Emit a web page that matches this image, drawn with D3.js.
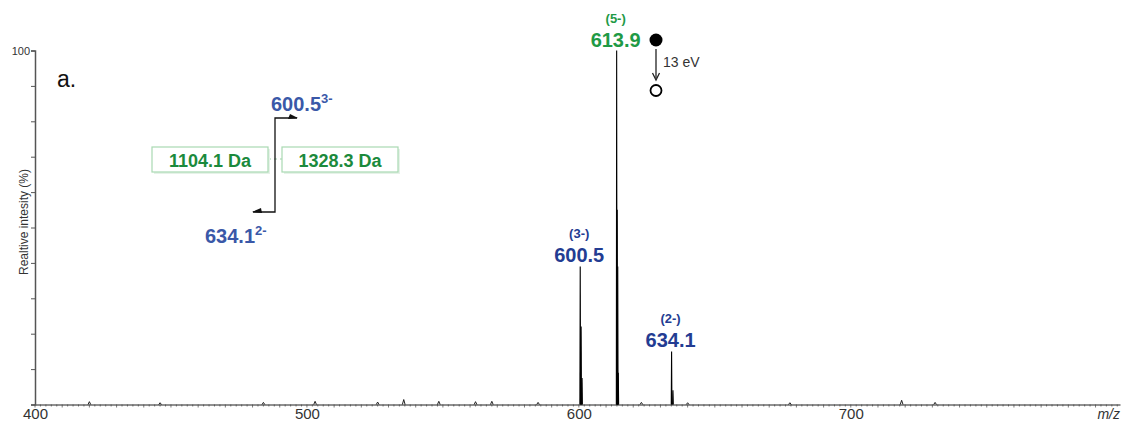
<!DOCTYPE html>
<html><head><meta charset="utf-8">
<script src="https://cdn.jsdelivr.net/npm/d3@7/dist/d3.min.js"></script>
<style>body{margin:0;background:#fff}svg{display:block}text{font-family:"Liberation Sans",Arial,sans-serif}</style>
</head><body><svg id="c" width="1124" height="424"></svg>
<script>
// ---- data ----
const xTicks = [400, 500, 600, 700];
const yTickLabels = ["100"];
const peakMz        = [600.5, 600.83, 601.17, 613.9, 614.1, 614.3, 614.5, 634.1, 634.6];
const peakIntensity = [39,    22,     7.5,    100,   55,    39,    9,     15,    4];
const noiseMz        = [420, 446, 484, 503, 526, 535.6, 548.5, 562, 568, 585, 623, 640, 677.6, 718.7, 731];
const noiseIntensity = [0.8, 0.5, 0.6, 0.9, 0.7, 1.4,   0.9,   0.8, 0.9, 0.6, 0.6, 0.5, 0.5,   1.2,   0.6];
const peakLabels = [
  {mz: 613.9, charge: "(5-)", text: "613.9", color: "#1f9a46"},
  {mz: 600.5, charge: "(3-)", text: "600.5", color: "#233c92"},
  {mz: 634.1, charge: "(2-)", text: "634.1", color: "#233c92"}
];
const massBoxes = ["1104.1 Da", "1328.3 Da"];
const ionLabels = [{v: "600.5", z: "3-"}, {v: "634.1", z: "2-"}];

// ---- scales ----
const svg = d3.select("#c");
const x = d3.scaleLinear().domain([400, 799]).range([35, 1120]);
const y = d3.scaleLinear().domain([0, 100]).range([404.5, 50.5]);

// axes
const gx = svg.append("g").attr("transform", `translate(0,${y(0)})`)
  .call(d3.axisBottom(x).tickValues(xTicks).tickSize(0).tickPadding(4).tickFormat(d3.format("d")));
gx.select(".domain").attr("stroke", "#222").attr("stroke-width", 1.2);
gx.selectAll("text").attr("font-size", 15).attr("fill", "#333");
// minor ticks on x
svg.append("g").selectAll("line").data(d3.range(400, 800, 2)).join("line")
  .attr("x1", d => x(d)).attr("x2", d => x(d))
  .attr("y1", y(0)).attr("y2", d => y(0) + (d % 10 === 0 ? 3 : 2))
  .attr("stroke", "#444").attr("stroke-width", 0.7);

const gy = svg.append("g").attr("transform", `translate(${x(400)},0)`)
  .call(d3.axisLeft(y).tickValues(d3.range(0, 101, 10)).tickSize(4)
    .tickFormat(d => d === 100 ? yTickLabels[0] : ""));
gy.select(".domain").attr("stroke", "#555").attr("stroke-width", 1.5);
gy.selectAll(".tick line").attr("stroke", "#555");
gy.selectAll("text").attr("font-size", 11).attr("fill", "#333").attr("dx", 2);

svg.append("text").attr("transform", `translate(25,${222}) rotate(-90)`)
  .attr("text-anchor", "middle").attr("dominant-baseline", "middle")
  .attr("font-size", 12).attr("fill", "#333").text("Realtive intesity (%)");

svg.append("text").attr("x", 1120).attr("y", 419).attr("text-anchor", "end")
  .attr("font-size", 14).attr("font-style", "italic").attr("fill", "#333").text("m/z");

// noise
svg.append("g").selectAll("path").data(noiseMz).join("path")
  .attr("d", (d, i) => `M${x(d - 0.5)},${y(0)}L${x(d)},${y(noiseIntensity[i])}L${x(d + 0.5)},${y(0)}`)
  .attr("fill", "none").attr("stroke", "#222").attr("stroke-width", 1);

// peaks
svg.append("g").selectAll("path").data(peakMz).join("path")
  .attr("d", (d, i) => `M${x(d - 0.12)},${y(0)}L${x(d)},${y(peakIntensity[i])}L${x(d + 0.12)},${y(0)}`)
  .attr("fill", "#000").attr("stroke", "#000").attr("stroke-width", 1.1);

// peak labels
peakLabels.forEach(p => {
  const i = peakMz.indexOf(p.mz);
  const top = y(peakIntensity[i]);
  svg.append("text").attr("x", x(p.mz) - 1).attr("y", top - 4).attr("text-anchor", "middle")
    .attr("font-size", 20).attr("font-weight", "bold").attr("fill", p.color).text(p.text);
  svg.append("text").attr("x", x(p.mz) - 1).attr("y", top - 28).attr("text-anchor", "middle")
    .attr("font-size", 13).attr("font-weight", "bold").attr("fill", p.color).text(p.charge);
});

// "a."
svg.append("text").attr("x", 57).attr("y", 87).attr("font-size", 23)
  .attr("font-family", "'Open Sans',sans-serif").attr("fill", "#111").text("a.");

// CID marker
const cx = 656;
svg.append("circle").attr("cx", cx).attr("cy", 40).attr("r", 6.5).attr("fill", "#000");
svg.append("line").attr("x1", cx).attr("x2", cx).attr("y1", 49).attr("y2", 78).attr("stroke", "#222").attr("stroke-width", 1.3);
svg.append("path").attr("d", `M${cx - 3.5},${73}L${cx},${80}L${cx + 3.5},${73}`).attr("fill", "none").attr("stroke", "#222").attr("stroke-width", 1.3);
svg.append("circle").attr("cx", cx).attr("cy", 90.5).attr("r", 5.5).attr("fill", "#fff").attr("stroke", "#000").attr("stroke-width", 1.8);
svg.append("text").attr("x", 663).attr("y", 67).attr("font-size", 14).attr("fill", "#333").text("13 eV");

// mass boxes
const boxes = [{x: 152, w: 116}, {x: 282, w: 116}];
svg.append("line").attr("x1", 268).attr("x2", 282).attr("y1", 159).attr("y2", 159)
  .attr("stroke", "#9ed0a8").attr("stroke-dasharray", "3,3").attr("stroke-width", 1.2);
boxes.forEach((b, i) => {
  svg.append("rect").attr("x", b.x + 2).attr("y", 149).attr("width", b.w).attr("height", 25).attr("fill", "#e6f2e8");
  svg.append("rect").attr("x", b.x).attr("y", 147).attr("width", b.w).attr("height", 25)
    .attr("fill", "#fff").attr("stroke", "#a9d9b2").attr("stroke-width", 1.2);
  svg.append("text").attr("x", b.x + b.w / 2).attr("y", 166.5).attr("text-anchor", "middle")
    .attr("font-size", 18).attr("font-weight", "bold").attr("fill", "#1b8a3c").text(massBoxes[i]);
});

// bracket arrows
svg.append("path").attr("d", "M297,118L275,118L275,212L253,212").attr("fill", "none").attr("stroke", "#111").attr("stroke-width", 1.3);
svg.append("path").attr("d", "M290,114L298,118L288,119Z").attr("fill", "#111");
svg.append("path").attr("d", "M261,208L252,212L262,213Z").attr("fill", "#111");

const ionPos = [{x: 271, y: 110.5}, {x: 205, y: 243}];
ionLabels.forEach((l, i) => {
  const t = svg.append("text").attr("x", ionPos[i].x).attr("y", ionPos[i].y)
    .attr("font-size", 20).attr("font-weight", "bold").attr("fill", "#3a58a8");
  t.append("tspan").text(l.v);
  t.append("tspan").attr("font-size", 13).attr("dy", -8).text(l.z);
});
</script></body></html>
